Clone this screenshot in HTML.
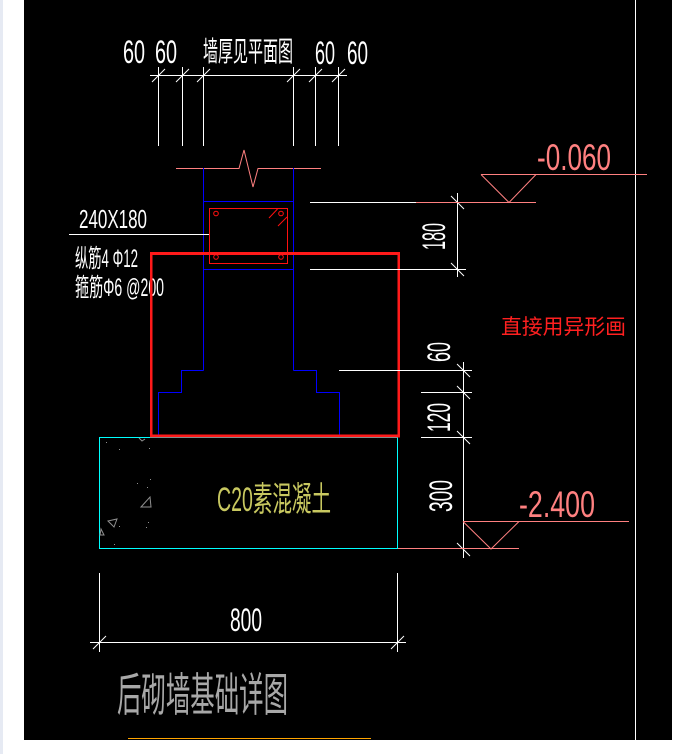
<!DOCTYPE html>
<html>
<head>
<meta charset="utf-8">
<style>
  html,body{margin:0;padding:0;background:#ffffff;}
  body{width:686px;height:754px;overflow:hidden;position:relative;}
  svg{position:absolute;left:0;top:0;}
  text{font-family:"Liberation Sans","Noto Sans CJK SC",sans-serif;}
</style>
</head>
<body>
<svg width="686" height="754" viewBox="0 0 686 754" xmlns="http://www.w3.org/2000/svg" shape-rendering="crispEdges">
  <!-- page background -->
  <rect x="0" y="0" width="686" height="754" fill="#ffffff"/>
  <rect x="0" y="0" width="3" height="754" fill="#e6eaf3"/>
  <rect x="24" y="0" width="648" height="740" fill="#000000"/>

  <!-- right frame line -->
  <line x1="635.5" y1="0" x2="635.5" y2="740" stroke="#ffffff" stroke-width="1"/>
  <!-- orange bottom line -->
  <line x1="128" y1="738.5" x2="371" y2="738.5" stroke="#ffa500" stroke-width="1"/>

  <!-- ===== Top dimension ===== -->
  <g stroke="#ffffff" stroke-width="1" fill="none">
    <line x1="150" y1="75.5" x2="347" y2="75.5"/>
    <line x1="158.5" y1="67" x2="158.5" y2="146"/>
    <line x1="182.5" y1="67" x2="182.5" y2="146"/>
    <line x1="203.5" y1="67" x2="203.5" y2="146"/>
    <line x1="293.5" y1="67" x2="293.5" y2="146"/>
    <line x1="315.5" y1="67" x2="315.5" y2="146"/>
    <line x1="338.5" y1="67" x2="338.5" y2="146"/>
  </g>
  <g stroke="#ffffff" stroke-width="1" fill="none" shape-rendering="auto">
    <line x1="152" y1="82" x2="165" y2="69"/>
    <line x1="176" y1="82" x2="189" y2="69"/>
    <line x1="197" y1="82" x2="210" y2="69"/>
    <line x1="287" y1="82" x2="300" y2="69"/>
    <line x1="309" y1="82" x2="322" y2="69"/>
    <line x1="332" y1="82" x2="345" y2="69"/>
  </g>
  <g fill="#ffffff" font-size="32">
    <text x="123" y="63" textLength="22" lengthAdjust="spacingAndGlyphs">60</text>
    <text x="155" y="63" textLength="22" lengthAdjust="spacingAndGlyphs">60</text>
    <text x="315" y="64" textLength="20" lengthAdjust="spacingAndGlyphs">60</text>
    <text x="347" y="64" textLength="21" lengthAdjust="spacingAndGlyphs">60</text>
  </g>
  <text x="203" y="61" font-size="28" fill="#ffffff" textLength="90" lengthAdjust="spacingAndGlyphs">墙厚见平面图</text>

  <!-- break line -->
  <polyline points="176,168.5 239,168.5 244,150 253,187 258,168.5 321,168.5" fill="none" stroke="#ff8080" stroke-width="1" shape-rendering="auto"/>

  <!-- column blue lines -->
  <g stroke="#0000ff" stroke-width="1" fill="none">
    <line x1="203.5" y1="168" x2="203.5" y2="370.5"/>
    <line x1="293.5" y1="168" x2="293.5" y2="370.5"/>
    <line x1="203" y1="201.5" x2="294" y2="201.5"/>
    <line x1="203" y1="269.5" x2="294" y2="269.5"/>
    <polyline points="203.5,370.5 181.5,370.5 181.5,392.5 158.5,392.5 158.5,436"/>
    <polyline points="293.5,370.5 316.5,370.5 316.5,392.5 339.5,392.5 339.5,436"/>
  </g>

  <!-- column rebar cage -->
  <g stroke="#ff1010" stroke-width="1" fill="none">
    <rect x="209.5" y="208.5" width="78" height="55"/>
  </g>
  <g stroke="#ff1010" stroke-width="1" fill="none" shape-rendering="auto">
    <circle cx="216" cy="213.5" r="2.3"/>
    <circle cx="281" cy="213.5" r="2.3"/>
    <circle cx="216" cy="257" r="2.3"/>
    <circle cx="281" cy="257" r="2.3"/>
    <line x1="269" y1="218" x2="277.5" y2="209"/>
    <line x1="278" y1="226" x2="287" y2="217"/>
  </g>

  <!-- left labels -->
  <text x="79" y="228" font-size="26" fill="#ffffff" textLength="68" lengthAdjust="spacingAndGlyphs">240X180</text>
  <line x1="69" y1="234.5" x2="209" y2="234.5" stroke="#ffffff" stroke-width="1"/>
  <text x="75" y="267" font-size="25" fill="#ffffff" textLength="63" lengthAdjust="spacingAndGlyphs">纵筋4 Φ12</text>
  <text x="75" y="296" font-size="25" fill="#ffffff" textLength="89" lengthAdjust="spacingAndGlyphs">箍筋Φ6 @200</text>

  <!-- plain concrete cushion (cyan) -->
  <rect x="99.5" y="437.5" width="298" height="111" fill="none" stroke="#00ffff" stroke-width="1"/>
  <!-- hatch marks -->
  <g stroke="#909090" stroke-width="1" fill="none" shape-rendering="auto">
    <polygon points="141,507 150,497 151,507"/>
    <polygon points="108,521 117,519 114,527"/>
    <polygon points="101,529 104,535 100,535"/>
    <polyline points="139,438 142,441 145,439"/>
  </g>
  <g fill="#909090">
    <rect x="106" y="442" width="1" height="1"/>
    <rect x="119" y="449" width="1" height="1"/>
    <rect x="149" y="448" width="1" height="1"/>
    <rect x="137" y="483" width="1" height="1"/>
    <rect x="150" y="479" width="1" height="1"/>
    <rect x="147" y="487" width="1" height="1"/>
    <rect x="148" y="522" width="1" height="1"/>
    <rect x="146" y="527" width="1" height="1"/>
    <rect x="119" y="526" width="1" height="1"/>
    <rect x="114" y="544" width="1" height="1"/>
  </g>
  <text x="217" y="511" font-size="34" fill="#c8c860" textLength="114" lengthAdjust="spacingAndGlyphs">C20素混凝土</text>

  <!-- thick red outline -->
  <rect x="151.2" y="253.5" width="247.5" height="182.5" fill="none" stroke="#ff1a1a" stroke-width="2.6"/>

  <!-- ===== Right dims (upper) ===== -->
  <g stroke="#ffffff" stroke-width="1" fill="none">
    <line x1="310" y1="202.5" x2="416" y2="202.5"/>
    <line x1="310" y1="269.5" x2="466" y2="269.5"/>
    <line x1="457.5" y1="193" x2="457.5" y2="277"/>
  </g>
  <g stroke="#ffffff" stroke-width="1" fill="none" shape-rendering="auto">
    <line x1="451" y1="196" x2="464" y2="209"/>
    <line x1="451" y1="263" x2="464" y2="276"/>
  </g>
  <line x1="416" y1="202.5" x2="536" y2="202.5" stroke="#ff8080" stroke-width="1"/>
  <text transform="translate(445,250) rotate(-90)" x="0" y="0" font-size="32" fill="#ffffff" textLength="27" lengthAdjust="spacingAndGlyphs">180</text>

  <!-- elevation -0.060 -->
  <line x1="481" y1="174.5" x2="647" y2="174.5" stroke="#ff8080" stroke-width="1"/>
  <polyline points="481,174.5 509,202.5 536,174.5" fill="none" stroke="#ff8080" stroke-width="1" shape-rendering="auto"/>
  <text x="537" y="170" font-size="37" fill="#ff8080" textLength="74" lengthAdjust="spacingAndGlyphs">-0.060</text>

  <!-- note -->
  <text x="501" y="334" font-size="21" fill="#ff2020" textLength="125" lengthAdjust="spacingAndGlyphs">直接用异形画</text>

  <!-- ===== Right dims (lower) ===== -->
  <g stroke="#ffffff" stroke-width="1" fill="none">
    <line x1="463.5" y1="362" x2="463.5" y2="558"/>
    <line x1="339" y1="370.5" x2="472" y2="370.5"/>
    <line x1="421" y1="392.5" x2="472" y2="392.5"/>
    <line x1="421" y1="437.5" x2="472" y2="437.5"/>
  </g>
  <g stroke="#ffffff" stroke-width="1" fill="none" shape-rendering="auto">
    <line x1="457" y1="364" x2="470" y2="377"/>
    <line x1="457" y1="386" x2="470" y2="399"/>
    <line x1="457" y1="431" x2="470" y2="444"/>
    <line x1="457" y1="543" x2="470" y2="556"/>
  </g>
  <g fill="#ffffff" font-size="32">
    <text transform="translate(450,362) rotate(-90)" x="0" y="0" textLength="20" lengthAdjust="spacingAndGlyphs">60</text>
    <text transform="translate(450,432) rotate(-90)" x="0" y="0" textLength="29" lengthAdjust="spacingAndGlyphs">120</text>
    <text transform="translate(452,512) rotate(-90)" x="0" y="0" textLength="32" lengthAdjust="spacingAndGlyphs">300</text>
  </g>

  <!-- elevation -2.400 -->
  <line x1="463" y1="521.5" x2="629" y2="521.5" stroke="#ff8080" stroke-width="1"/>
  <polyline points="463,521.5 491,549 519,521.5" fill="none" stroke="#ff8080" stroke-width="1" shape-rendering="auto"/>
  <line x1="398" y1="548.5" x2="519" y2="548.5" stroke="#ff8080" stroke-width="1"/>
  <text x="519" y="517" font-size="37" fill="#ff8080" textLength="76" lengthAdjust="spacingAndGlyphs">-2.400</text>

  <!-- ===== Bottom 800 dim ===== -->
  <g stroke="#ffffff" stroke-width="1" fill="none">
    <line x1="90" y1="642.5" x2="406" y2="642.5"/>
    <line x1="99.5" y1="573" x2="99.5" y2="652"/>
    <line x1="397.5" y1="573" x2="397.5" y2="652"/>
  </g>
  <g stroke="#ffffff" stroke-width="1" fill="none" shape-rendering="auto">
    <line x1="93" y1="649" x2="106" y2="636"/>
    <line x1="391" y1="649" x2="404" y2="636"/>
  </g>
  <text x="230" y="631" font-size="32" fill="#ffffff" textLength="32" lengthAdjust="spacingAndGlyphs">800</text>

  <!-- title -->
  <text x="117" y="711" font-size="46" fill="#a8a8a8" textLength="171" lengthAdjust="spacingAndGlyphs">后砌墙基础详图</text>
</svg>
</body>
</html>
